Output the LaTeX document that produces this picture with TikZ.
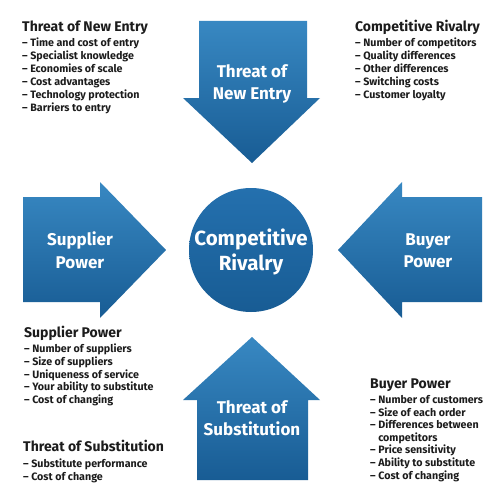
\documentclass[tikz,border=0pt]{standalone}
\usepackage{fontspec}
\setmainfont{Fira Sans}
\definecolor{arrtop}{RGB}{56,136,194}
\definecolor{arrbot}{RGB}{24,92,148}
\definecolor{cirtop}{RGB}{36,112,174}
\definecolor{cirbot}{RGB}{24,92,148}
\definecolor{txt}{RGB}{28,28,28}
\begin{document}
\begin{tikzpicture}[x=1pt,y=-1pt,
  arrowfill/.style={top color=arrtop, bottom color=arrbot, draw=none},
  arrlabel/.style={text=white, font=\fontsize{17}{22.5}\selectfont\bfseries, align=center, inner sep=0},
  ttl/.style={anchor=base west, inner sep=0, font=\fontsize{14}{16}\selectfont\bfseries, text=txt},
  itm/.style={anchor=base west, inner sep=0, font=\fontsize{10.7}{12}\selectfont\bfseries, text=txt}]
\useasboundingbox (0,0) rectangle (492,495);
\fill[white] (0,0) rectangle (492,495);
% arrows
\path[arrowfill] (199,21) -- (307,21) -- (307,98) -- (320,98) -- (252,163) -- (183,98) -- (199,98) -- cycle;
\path[arrowfill] (23,197) -- (100,197) -- (100,182) -- (166,250) -- (100,318) -- (100,302) -- (23,302) -- cycle;
\path[arrowfill] (482,197) -- (402,197) -- (402,182) -- (338,250) -- (402,318) -- (402,302) -- (482,302) -- cycle;
\path[arrowfill] (197,480) -- (308,480) -- (308,400) -- (320,400) -- (252,337) -- (183,400) -- (197,400) -- cycle;
\shade[top color=cirtop, bottom color=cirbot] (251,250) circle[radius=62];
% arrow labels
\node[arrlabel] (lne) at (252,84) {Threat of\\New Entry};
\node[arrlabel] (lsp) at (80,250) {Supplier\\Power};
\node[arrlabel] (lbp) at (428,251) {Buyer\\Power};
\node[arrlabel] (lts) at (252,418) {Threat of\\Substitution};
\node[arrlabel, font=\fontsize{20.5}{25}\selectfont\bfseries] (lcr) at (251,252) {Competitive\\Rivalry};
% text blocks
\node[ttl] (tne) at (22,32) {Threat of New Entry};
\foreach \t [count=\i] in {Time and cost of entry, Specialist knowledge, Economies of scale, Cost advantages, Technology protection, Barriers to entry}
  \node[itm] (ne\i) at (22,{47+12.8*(\i-1)}) {– \t};
\node[ttl] (tcr) at (355,32) {Competitive Rivalry};
\foreach \t [count=\i] in {Number of competitors, Quality differences, Other differences, Switching costs, Customer loyalty}
  \node[itm] (cr\i) at (355,{47+12.8*(\i-1)}) {– \t};
\node[ttl] (tsp) at (24,337) {Supplier Power};
\foreach \t [count=\i] in {Number of suppliers, Size of suppliers, Uniqueness of service, Your ability to substitute, Cost of changing}
  \node[itm] (sp\i) at (24,{352.5+12.8*(\i-1)}) {– \t};
\node[ttl] (tts) at (23,451) {Threat of Substitution};
\foreach \t [count=\i] in {Substitute performance, Cost of change}
  \node[itm] (ts\i) at (23,{467.5+13*(\i-1)}) {– \t};
\node[ttl] (tbp) at (370,388) {Buyer Power};
\foreach \t [count=\i] in {– Number of customers, – Size of each order, – Differences between, \phantom{– }competitors, – Price sensitivity, – Ability to substitute, – Cost of changing}
  \node[itm] (bp\i) at (370,{403.5+12.6*(\i-1)}) {\t};
\end{tikzpicture}
\end{document}
